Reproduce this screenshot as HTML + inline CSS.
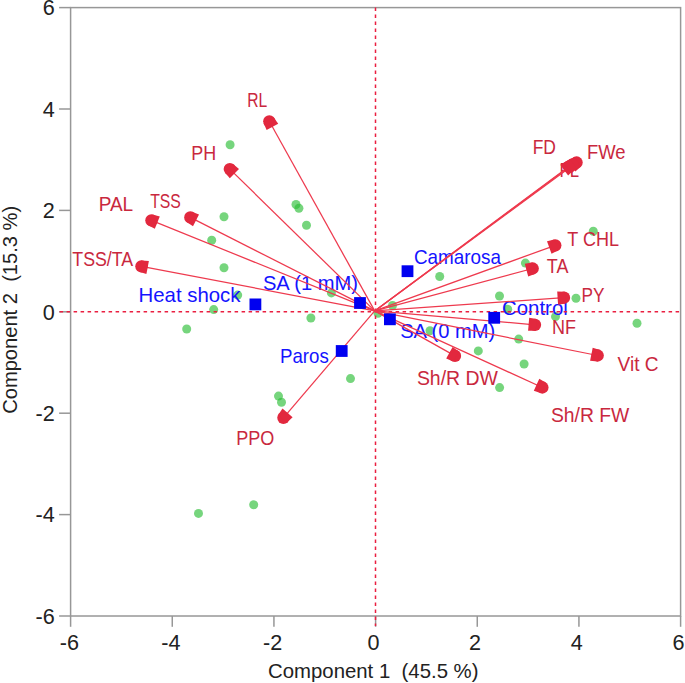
<!DOCTYPE html>
<html><head><meta charset="utf-8"><title>PCA biplot</title>
<style>
html,body{margin:0;padding:0;background:#fff;}
body{width:685px;height:683px;overflow:hidden;}
svg{display:block;font-family:"Liberation Sans",sans-serif;}
.tk{font-size:21.6px;fill:#222;}
.ttl{font-size:21px;fill:#222;}
.rl{font-size:21px;fill:#c9283e;}
.bl{font-size:21px;fill:#1414ff;}
</style></head><body>
<svg width="685" height="683" viewBox="0 0 685 683">
<rect width="685" height="683" fill="#fff"/>
<rect x="70.6" y="7.6" width="610.0" height="608.4" fill="none" stroke="#979797" stroke-width="1.5"/>
<line x1="59.099999999999994" y1="616.00" x2="70.6" y2="616.00" stroke="#979797" stroke-width="1.5"/><line x1="70.60" y1="616.0" x2="70.60" y2="626.8" stroke="#979797" stroke-width="1.5"/>
<text class="tk" x="54.8" y="623.80" text-anchor="end">-6</text><text class="tk" x="69.30" y="649.8" text-anchor="middle">-6</text>
<line x1="59.099999999999994" y1="514.60" x2="70.6" y2="514.60" stroke="#979797" stroke-width="1.5"/><line x1="172.27" y1="616.0" x2="172.27" y2="626.8" stroke="#979797" stroke-width="1.5"/>
<text class="tk" x="54.8" y="522.40" text-anchor="end">-4</text><text class="tk" x="170.97" y="649.8" text-anchor="middle">-4</text>
<line x1="59.099999999999994" y1="413.20" x2="70.6" y2="413.20" stroke="#979797" stroke-width="1.5"/><line x1="273.93" y1="616.0" x2="273.93" y2="626.8" stroke="#979797" stroke-width="1.5"/>
<text class="tk" x="54.8" y="421.00" text-anchor="end">-2</text><text class="tk" x="272.63" y="649.8" text-anchor="middle">-2</text>
<line x1="59.099999999999994" y1="311.80" x2="70.6" y2="311.80" stroke="#979797" stroke-width="1.5"/><line x1="375.60" y1="616.0" x2="375.60" y2="626.8" stroke="#979797" stroke-width="1.5"/>
<text class="tk" x="54.8" y="319.60" text-anchor="end">0</text><text class="tk" x="373.40" y="649.8" text-anchor="middle">0</text>
<line x1="59.099999999999994" y1="210.40" x2="70.6" y2="210.40" stroke="#979797" stroke-width="1.5"/><line x1="477.27" y1="616.0" x2="477.27" y2="626.8" stroke="#979797" stroke-width="1.5"/>
<text class="tk" x="54.8" y="218.20" text-anchor="end">2</text><text class="tk" x="475.07" y="649.8" text-anchor="middle">2</text>
<line x1="59.099999999999994" y1="109.00" x2="70.6" y2="109.00" stroke="#979797" stroke-width="1.5"/><line x1="578.93" y1="616.0" x2="578.93" y2="626.8" stroke="#979797" stroke-width="1.5"/>
<text class="tk" x="54.8" y="116.80" text-anchor="end">4</text><text class="tk" x="576.73" y="649.8" text-anchor="middle">4</text>
<line x1="59.099999999999994" y1="7.60" x2="70.6" y2="7.60" stroke="#979797" stroke-width="1.5"/><line x1="680.60" y1="616.0" x2="680.60" y2="626.8" stroke="#979797" stroke-width="1.5"/>
<text class="tk" x="54.8" y="15.40" text-anchor="end">6</text><text class="tk" x="678.40" y="649.8" text-anchor="middle">6</text>
<g fill="#2dbe37" fill-opacity="0.65">
<circle cx="230.1" cy="144.8" r="4.5"/><circle cx="224" cy="216.8" r="4.5"/><circle cx="211.7" cy="240.2" r="4.5"/><circle cx="224" cy="267.7" r="4.5"/><circle cx="296" cy="204.5" r="4.5"/><circle cx="298.9" cy="208.3" r="4.5"/><circle cx="306.5" cy="225.3" r="4.5"/><circle cx="213.7" cy="309.6" r="4.5"/><circle cx="186.7" cy="329" r="4.5"/><circle cx="237.7" cy="295.1" r="4.5"/><circle cx="310.9" cy="318" r="4.5"/><circle cx="350.5" cy="378.6" r="4.5"/><circle cx="278.5" cy="396.1" r="4.5"/><circle cx="281.5" cy="402.2" r="4.5"/><circle cx="253.7" cy="504.7" r="4.5"/><circle cx="198.5" cy="513.4" r="4.5"/><circle cx="331.4" cy="292.9" r="4.5"/><circle cx="392.5" cy="305.5" r="4.5"/><circle cx="439.7" cy="276.5" r="4.5"/><circle cx="499.5" cy="296" r="4.5"/><circle cx="478.3" cy="350.9" r="4.5"/><circle cx="518.7" cy="339.1" r="4.5"/><circle cx="524.1" cy="364" r="4.5"/><circle cx="499.6" cy="387.6" r="4.5"/><circle cx="430" cy="330.7" r="4.5"/><circle cx="507.7" cy="309.3" r="4.5"/><circle cx="378" cy="313.3" r="4.5"/><circle cx="525.4" cy="263.1" r="4.5"/><circle cx="593.3" cy="231.3" r="4.5"/><circle cx="576" cy="298.3" r="4.5"/><circle cx="637" cy="323.3" r="4.5"/><circle cx="555.5" cy="316.6" r="4.5"/>
</g>
<text class="rl" x="247.3" y="106.7" textLength="20.0" lengthAdjust="spacingAndGlyphs">RL</text>
<text class="rl" x="191.2" y="159.6" textLength="24.9" lengthAdjust="spacingAndGlyphs">PH</text>
<text class="rl" x="98.7" y="211" textLength="34.5" lengthAdjust="spacingAndGlyphs">PAL</text>
<text class="rl" x="150.2" y="208" textLength="30.7" lengthAdjust="spacingAndGlyphs">TSS</text>
<text class="rl" x="72.3" y="265.7" textLength="60.9" lengthAdjust="spacingAndGlyphs">TSS/TA</text>
<text class="rl" x="236.2" y="444.7" textLength="38.1" lengthAdjust="spacingAndGlyphs">PPO</text>
<text class="rl" x="532.7" y="153.7" textLength="23.3" lengthAdjust="spacingAndGlyphs">FD</text>
<text class="rl" x="586.9" y="159" textLength="38.6" lengthAdjust="spacingAndGlyphs">FWe</text>
<text class="rl" x="567.3" y="246" textLength="51.7" lengthAdjust="spacingAndGlyphs">T CHL</text>
<text class="rl" x="546.8" y="272.9" textLength="21.6" lengthAdjust="spacingAndGlyphs">TA</text>
<text class="rl" x="581.6" y="301.8" textLength="22.9" lengthAdjust="spacingAndGlyphs">PY</text>
<text class="rl" x="552" y="334.2" textLength="24.0" lengthAdjust="spacingAndGlyphs">NF</text>
<text class="rl" x="617.6" y="370.8" textLength="41.0" lengthAdjust="spacingAndGlyphs">Vit C</text>
<text class="rl" x="416.9" y="384.9" textLength="81.1" lengthAdjust="spacingAndGlyphs">Sh/R DW</text>
<text class="rl" x="550.9" y="422" textLength="78.4" lengthAdjust="spacingAndGlyphs">Sh/R FW</text>
<text class="bl" x="138.5" y="302.4" textLength="102.0" lengthAdjust="spacingAndGlyphs">Heat shock</text>
<text class="bl" x="262.9" y="289.9" textLength="95.1" lengthAdjust="spacingAndGlyphs">SA (1 mM)</text>
<text class="bl" x="413.9" y="263.9" textLength="87.0" lengthAdjust="spacingAndGlyphs">Camarosa</text>
<text class="bl" x="400.2" y="337.7" textLength="95.1" lengthAdjust="spacingAndGlyphs">SA (0 mM)</text>
<text class="bl" x="280" y="362.6" textLength="48.8" lengthAdjust="spacingAndGlyphs">Paros</text>
<text class="bl" x="502" y="315.2" textLength="65.8" lengthAdjust="spacingAndGlyphs">Control</text>
<line x1="59.599999999999994" y1="311.8" x2="680.6" y2="311.8" stroke="#ea1f40" stroke-width="1.5" stroke-dasharray="3.5 3.5"/>
<line x1="375.5" y1="7.6" x2="375.5" y2="626.0" stroke="#ea1f40" stroke-width="1.5" stroke-dasharray="3.5 3.5"/>
<text class="rl" x="559.5" y="176.5" textLength="19.5" lengthAdjust="spacingAndGlyphs">FL</text>
<g stroke="#ee3a4e" stroke-width="1.25" fill="none">
<line x1="374.7" y1="310.9" x2="269.3" y2="121.3"/><line x1="374.7" y1="310.9" x2="229.8" y2="169.1"/><line x1="374.7" y1="310.9" x2="151.4" y2="220.3"/><line x1="374.7" y1="310.9" x2="190.3" y2="217.4"/><line x1="374.7" y1="310.9" x2="141.4" y2="266.3"/><line x1="374.7" y1="310.9" x2="283.4" y2="417.8"/><line x1="374.7" y1="310.9" x2="569.3" y2="166.3"/><line x1="374.7" y1="310.9" x2="576.6" y2="162.5"/><line x1="374.7" y1="310.9" x2="572.5" y2="164.5"/><line x1="374.7" y1="310.9" x2="555.3" y2="245.3"/><line x1="374.7" y1="310.9" x2="532.7" y2="268.5"/><line x1="374.7" y1="310.9" x2="564.0" y2="297.7"/><line x1="374.7" y1="310.9" x2="535.0" y2="324.8"/><line x1="374.7" y1="310.9" x2="597.7" y2="355.5"/><line x1="374.7" y1="310.9" x2="455.0" y2="355.9"/><line x1="374.7" y1="310.9" x2="542.4" y2="387.5"/>
</g>
<g fill="#e2283e">
<circle cx="269.3" cy="121.3" r="6.15"/><polygon points="266.6,130.1 263.6,123.1 273.8,117.4 278.2,123.7"/>
<circle cx="229.8" cy="169.1" r="6.15"/><polygon points="229.8,178.3 224.9,172.4 233.0,164.1 239.0,168.9"/>
<circle cx="151.4" cy="220.3" r="6.15"/><polygon points="154.8,228.8 148.1,225.2 152.5,214.5 159.8,216.6"/>
<circle cx="190.3" cy="217.4" r="6.15"/><polygon points="193.0,226.2 186.6,222.0 191.9,211.7 199.0,214.4"/>
<circle cx="141.4" cy="266.3" r="6.15"/><polygon points="146.4,274.0 139.1,271.8 141.3,260.4 148.9,261.0"/>
<circle cx="283.4" cy="417.8" r="6.15"/><polygon points="292.6,417.2 287.0,422.5 278.2,414.9 282.5,408.6"/>
<circle cx="569.3" cy="166.3" r="6.15"/><polygon points="560.2,164.8 566.8,160.9 573.7,170.2 568.1,175.4"/>
<circle cx="576.6" cy="162.5" r="6.15"/><polygon points="567.5,161.0 574.1,157.1 581.0,166.5 575.4,171.6"/>
<circle cx="572.5" cy="164.5" r="6.15"/><polygon points="563.4,163.0 570.0,159.1 576.9,168.4 571.3,173.6"/>
<circle cx="555.3" cy="245.3" r="6.15"/><polygon points="547.0,241.3 554.4,239.4 558.4,250.3 551.5,253.7"/>
<circle cx="532.7" cy="268.5" r="6.15"/><polygon points="524.8,263.8 532.4,262.6 535.4,273.8 528.2,276.5"/>
<circle cx="564.0" cy="297.7" r="6.15"/><polygon points="557.2,291.6 564.8,291.8 565.6,303.4 558.1,304.7"/>
<circle cx="535.0" cy="324.8" r="6.15"/><polygon points="529.2,317.7 536.7,319.1 535.7,330.7 528.1,330.8"/>
<circle cx="597.7" cy="355.5" r="6.15"/><polygon points="592.7,347.8 600.0,350.0 597.7,361.4 590.1,360.7"/>
<circle cx="455.0" cy="355.9" r="6.15"/><polygon points="452.6,347.0 458.9,351.4 453.2,361.5 446.2,358.5"/>
<circle cx="542.4" cy="387.5" r="6.15"/><polygon points="539.3,378.8 545.9,382.7 541.1,393.3 533.8,390.8"/>
</g>
<g fill="#0000f0">
<rect x="249.5" y="298.5" width="11.8" height="11.8"/><rect x="354.1" y="297.1" width="11.8" height="11.8"/><rect x="401.6" y="265.3" width="11.8" height="11.8"/><rect x="384.0" y="313.4" width="11.8" height="11.8"/><rect x="335.8" y="345.1" width="11.8" height="11.8"/><rect x="488.3" y="311.9" width="11.8" height="11.8"/>
</g>
<text class="ttl" x="268" y="677.8" textLength="210.5" lengthAdjust="spacingAndGlyphs" xml:space="preserve">Component 1  (45.5 %)</text>
<text class="ttl" transform="translate(16.8,413.8) rotate(-90)" textLength="208" lengthAdjust="spacingAndGlyphs" xml:space="preserve">Component 2  (15.3 %)</text>
</svg></body></html>
